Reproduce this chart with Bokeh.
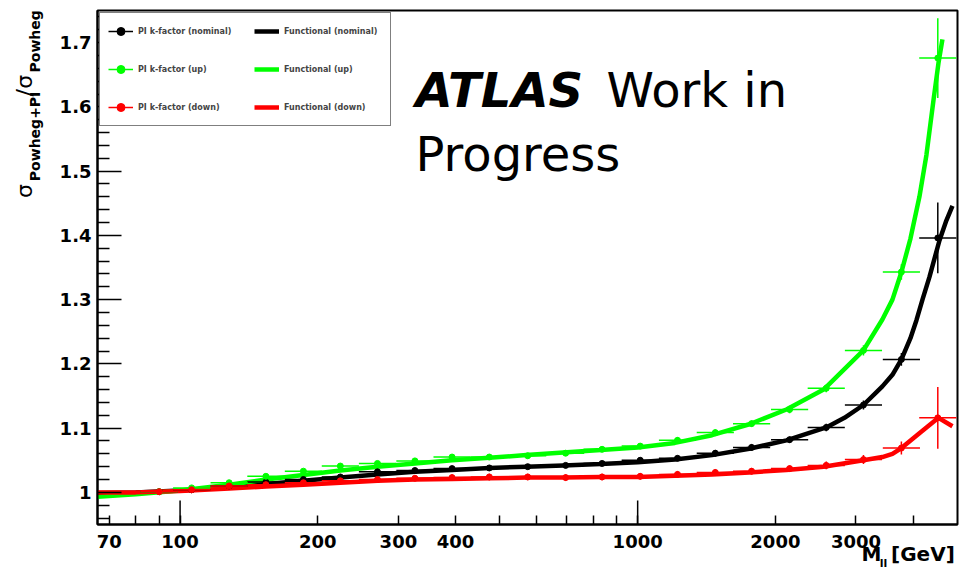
from bokeh.plotting import figure
from bokeh.models import (FixedTicker, Range1d, Label, Legend, LegendItem, ColumnDataSource,
                          LinearAxis, LogAxis)
from bokeh.embed import file_html
from bokeh.resources import INLINE

# ---- PI k-factor points: bin centres of the dilepton mass [GeV] ----
mass = [90, 106, 128, 154, 186, 224, 270, 326, 393, 474, 575, 696,
        836, 1013, 1222, 1478, 1774, 2148, 2583, 3115, 3770, 4528]
bin_half_factor = 1.098  # half bin width (log bins)

kf_nominal = [1.001, 1.004, 1.010, 1.016, 1.020, 1.024, 1.032, 1.034, 1.037, 1.038, 1.040,
              1.042, 1.045, 1.050, 1.053, 1.061, 1.070, 1.082, 1.101, 1.136, 1.207, 1.396]
kf_up = [1.001, 1.007, 1.015, 1.025, 1.033, 1.041, 1.045, 1.049, 1.055, 1.055, 1.057,
         1.061, 1.067, 1.072, 1.081, 1.093, 1.107, 1.129, 1.162, 1.221, 1.343, 1.676]
kf_down = [1.001, 1.004, 1.010, 1.012, 1.015, 1.018, 1.020, 1.022, 1.023, 1.024, 1.024,
           1.023, 1.024, 1.025, 1.028, 1.031, 1.033, 1.037, 1.042, 1.051, 1.069, 1.116]

err_nominal = [0.002, 0.002, 0.003, 0.003, 0.003, 0.003, 0.003, 0.004, 0.004, 0.004, 0.004,
               0.004, 0.004, 0.004, 0.004, 0.005, 0.005, 0.005, 0.006, 0.007, 0.010, 0.055]
err_up = [0.002, 0.002, 0.003, 0.003, 0.003, 0.003, 0.003, 0.004, 0.004, 0.004, 0.004,
          0.004, 0.004, 0.004, 0.005, 0.005, 0.005, 0.006, 0.006, 0.008, 0.012, 0.062]
err_down = [0.002, 0.002, 0.003, 0.003, 0.003, 0.003, 0.004, 0.004, 0.005, 0.005, 0.005,
            0.005, 0.005, 0.005, 0.005, 0.005, 0.005, 0.005, 0.006, 0.007, 0.010, 0.048]

# ---- Functional fits ----
fit_nominal_m = [66, 80, 100, 128, 154, 186, 224, 270, 326, 393, 474, 571, 688, 830, 1000,
                 1206, 1454, 1754, 2114, 2583, 2831, 3114, 3426, 3604, 3771, 3946, 4067,
                 4192, 4341, 4566, 4727, 4875]
fit_nominal = [0.999, 1.000, 1.003, 1.008, 1.013, 1.018, 1.023, 1.028, 1.032, 1.035, 1.038,
               1.040, 1.042, 1.044, 1.047, 1.051, 1.058, 1.068, 1.081, 1.101, 1.116, 1.136,
               1.165, 1.183, 1.207, 1.240, 1.268, 1.300, 1.335, 1.392, 1.423, 1.446]

fit_up_m = [66, 80, 100, 128, 154, 186, 224, 270, 326, 393, 474, 571, 688, 830, 1000,
            1206, 1454, 1754, 2114, 2549, 3114, 3426, 3604, 3771, 3946, 4128, 4276, 4430,
            4543, 4635]
fit_up = [0.993, 0.997, 1.003, 1.012, 1.020, 1.027, 1.034, 1.040, 1.045, 1.050, 1.054, 1.058,
          1.062, 1.066, 1.070, 1.077, 1.089, 1.106, 1.129, 1.160, 1.221, 1.269, 1.300, 1.343,
          1.395, 1.460, 1.525, 1.610, 1.668, 1.705]

fit_down_m = [66, 80, 100, 128, 154, 186, 224, 270, 326, 393, 474, 571, 688, 830, 1000,
              1206, 1454, 1754, 2114, 2549, 3114, 3426, 3604, 3771, 4128, 4543, 4875]
fit_down = [1.000, 1.000, 1.002, 1.006, 1.009, 1.012, 1.015, 1.018, 1.020, 1.021, 1.022, 1.023,
            1.023, 1.024, 1.024, 1.026, 1.028, 1.031, 1.035, 1.040, 1.050, 1.055, 1.060, 1.069,
            1.092, 1.116, 1.103]

# ---- axes ----
x_min, x_max = 66, 5000
y_min, y_max = 0.95, 1.75
x_tick_values = [70, 100, 200, 300, 400, 1000, 2000, 3000]
x_tick_labels = ["70", "100", "200", "300", "400", "1000", "2000", "3000"]
x_minor_values = [80, 90, 500, 600, 700, 800, 900, 4000]
x_decades = [100, 1000]
y_tick_values = [1.0, 1.1, 1.2, 1.3, 1.4, 1.5, 1.6, 1.7]
y_tick_labels = ["1", "1.1", "1.2", "1.3", "1.4", "1.5", "1.6", "1.7"]
y_minor_values = [0.96, 0.98, 1.02, 1.04, 1.06, 1.08, 1.12, 1.14, 1.16, 1.18, 1.22, 1.24,
                  1.26, 1.28, 1.32, 1.34, 1.36, 1.38, 1.42, 1.44, 1.46, 1.48, 1.52, 1.54,
                  1.56, 1.58, 1.62, 1.64, 1.66, 1.68, 1.72, 1.74]

# axis titles, written as label pieces placed along the axes
y_title_main_pos = [1.469, 1.622, 1.639]
y_title_main_txt = ["σ", "/", "σ"]
y_title_sub_pos = [1.554, 1.702]
y_title_sub_txt = ["Powheg+PI", "Powheg"]
x_title_main_pos = [3243, 4202]
x_title_main_txt = ["M", "[GeV]"]
x_title_sub_pos = [3444]
x_title_sub_txt = ["ll"]

BLACK, GREEN, RED = "#000000", "#00ff00", "#ff0000"
FONT = "DejaVu Sans"

FRAME_L, FRAME_R, FRAME_T, FRAME_B = 97, 957, 10, 524
W, H = 965, 577

p = figure(width=W, height=H, x_axis_type="log",
           x_range=Range1d(x_min, x_max), y_range=Range1d(y_min, y_max),
           output_backend="svg", toolbar_location=None,
           min_border_left=FRAME_L, min_border_right=W - FRAME_R,
           min_border_top=FRAME_T, min_border_bottom=H - FRAME_B)
p.background_fill_color = "white"
p.border_fill_color = "white"
p.xgrid.visible = False
p.ygrid.visible = False
p.outline_line_color = "black"
p.outline_line_width = 2

xa = p.xaxis[0]
xa.ticker = FixedTicker(ticks=x_tick_values, minor_ticks=x_minor_values)
xa.major_label_overrides = dict(zip(x_tick_values, x_tick_labels))
ya = p.yaxis[0]
ya.ticker = FixedTicker(ticks=y_tick_values, minor_ticks=y_minor_values)
ya.major_label_overrides = dict(zip(y_tick_values, y_tick_labels))
for ax in (xa, ya):
    ax.axis_line_width = 2
    ax.axis_line_color = "black"
    ax.major_tick_out = 0
    ax.minor_tick_out = 0
    ax.major_tick_line_width = 1.5
    ax.minor_tick_line_width = 1.5
    ax.major_label_text_font = FONT
    ax.major_label_text_font_style = "bold"
    ax.major_label_text_font_size = "18px"
    ax.major_label_text_color = "black"
xa.major_tick_in = 9
xa.minor_tick_in = 9
xa.major_label_standoff = 10
ya.major_tick_in = 24
ya.minor_tick_in = 12
ya.major_label_standoff = 6


def title_axis(cls, pos, txt, size, style, standoff, side, orientation="horizontal"):
    ax = cls(ticker=FixedTicker(ticks=pos, minor_ticks=[]),
             major_label_overrides=dict(zip(pos, txt)),
             major_label_orientation=orientation,
             axis_line_color=None, major_tick_line_color=None, minor_tick_line_color=None,
             major_tick_in=0, major_tick_out=0, minor_tick_in=0, minor_tick_out=0,
             major_label_standoff=standoff,
             major_label_text_font=FONT, major_label_text_font_style=style,
             major_label_text_font_size=f"{size}px", major_label_text_color="black")
    p.add_layout(ax, side)


# y title: sigma_{Powheg+PI} / sigma_{Powheg}
title_axis(LinearAxis, y_title_sub_pos, y_title_sub_txt, 14, "bold", 13, "left", "vertical")
title_axis(LinearAxis, y_title_main_pos, y_title_main_txt, 22, "normal", -13, "left", "vertical")
# x title: M_ll [GeV]
title_axis(LogAxis, x_title_main_pos, x_title_main_txt, 20, "bold", -9, "below")
title_axis(LogAxis, x_title_sub_pos, x_title_sub_txt, 11, "bold", -12, "below")

# longer ticks at the decades
px_per_y = (FRAME_B - FRAME_T) / (y_max - y_min)
p.segment(x0=x_decades, y0=[y_min] * len(x_decades), x1=x_decades,
          y1=[y_min + 24 / px_per_y] * len(x_decades), line_color="black", line_width=1.5)

# functional curves
fn_n = p.line(fit_nominal_m, fit_nominal, line_color=BLACK, line_width=4.5)
fn_u = p.line(fit_up_m, fit_up, line_color=GREEN, line_width=4.5)
fn_d = p.line(fit_down_m, fit_down, line_color=RED, line_width=4.5)


def points(vals, errs, color):
    src = ColumnDataSource(dict(
        m=mass, v=vals,
        lo=[m / bin_half_factor for m in mass], hi=[m * bin_half_factor for m in mass],
        vlo=[v - e for v, e in zip(vals, errs)], vhi=[v + e for v, e in zip(vals, errs)]))
    h = p.segment(x0="lo", y0="v", x1="hi", y1="v", source=src, line_color=color, line_width=1.5)
    p.segment(x0="m", y0="vlo", x1="m", y1="vhi", source=src, line_color=color, line_width=1.5)
    s = p.scatter(x="m", y="v", source=src, size=6, fill_color=color, line_color=color)
    return [h, s]


pk_n = points(kf_nominal, err_nominal, BLACK)
pk_u = points(kf_up, err_up, GREEN)
pk_d = points(kf_down, err_down, RED)

legend = Legend(items=[
    LegendItem(label="PI k-factor (nominal)", renderers=pk_n),
    LegendItem(label="PI k-factor (up)", renderers=pk_u),
    LegendItem(label="PI k-factor (down)", renderers=pk_d),
    LegendItem(label="Functional (nominal)", renderers=[fn_n]),
    LegendItem(label="Functional (up)", renderers=[fn_u]),
    LegendItem(label="Functional (down)", renderers=[fn_d]),
], ncols=2, location="top_left", margin=2, padding=8, spacing=18,
    glyph_width=25, glyph_height=20, label_height=20, label_width=98, label_standoff=5,
    label_text_font=FONT, label_text_font_style="bold", label_text_font_size="8px",
    border_line_color="black", border_line_width=1.5, background_fill_alpha=1.0)
p.add_layout(legend, "center")


def add_text(x, y, text, size, style="normal"):
    # x, y in canvas pixels from the top-left corner
    p.add_layout(Label(x=x - FRAME_L, y=FRAME_B - y, x_units="screen", y_units="screen",
                       text=text, text_font=FONT, text_font_style=style,
                       text_font_size=f"{size}px", text_align="left",
                       text_baseline="alphabetic", text_color="black"))


# experiment label
add_text(415, 89, "ATLAS", 48, "bold italic")
add_text(606, 89, "Work in", 48, "normal")
add_text(415, 153, "Progress", 48, "normal")

open("out.html", "w").write(file_html(p, INLINE))
